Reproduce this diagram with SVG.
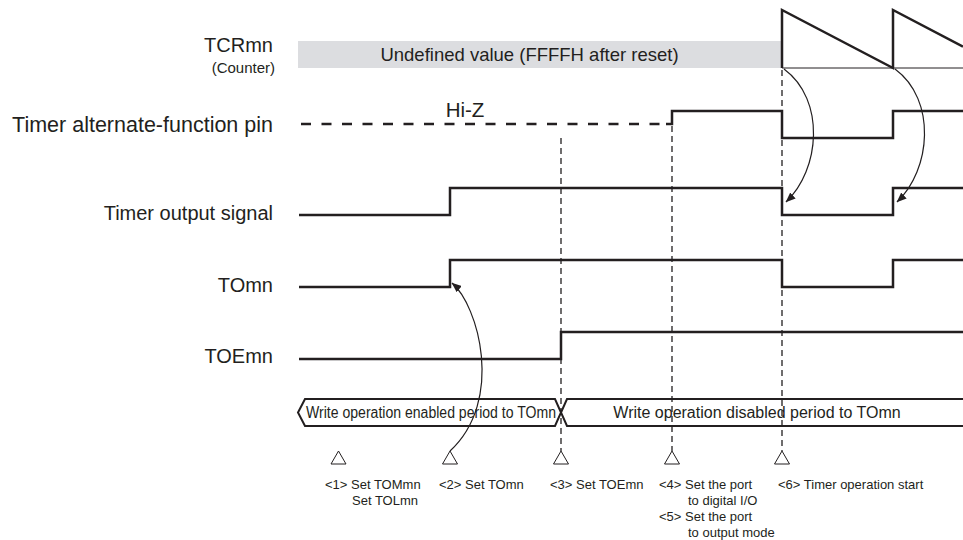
<svg xmlns="http://www.w3.org/2000/svg" width="963" height="540" viewBox="0 0 963 540">
<style>
  .lbl{font-family:"Liberation Sans",Arial,sans-serif;fill:#231f20;}
  .big{font-size:20px;text-anchor:end;}
  .sig{fill:none;stroke:#231f20;stroke-width:2.5;stroke-linejoin:miter;}
  .thin{fill:none;stroke:#231f20;stroke-width:1;}
  .vdash{fill:none;stroke:#231f20;stroke-width:1.3;stroke-dasharray:6 4;}
  .curve{fill:none;stroke:#231f20;stroke-width:1.2;marker-end:url(#ah);}
  .tri{fill:#fff;stroke:#231f20;stroke-width:1;}
  .band{fill:#fff;stroke:#231f20;stroke-width:2;}
  .note{font-size:13px;}
</style>
<defs>
  <marker id="ah" viewBox="0 0 10 8" refX="9.5" refY="4" markerWidth="10" markerHeight="8" markerUnits="userSpaceOnUse" orient="auto">
    <path d="M0,0 L10,4 L0,8 Z" fill="#231f20"/>
  </marker>
</defs>
<rect width="963" height="540" fill="#fff"/>

<g id="labels">
  <text class="lbl big" x="273" y="52" font-size="21">TCRmn</text>
  <text class="lbl" x="275" y="73" font-size="15" text-anchor="end">(Counter)</text>
  <text class="lbl big" x="273" y="132" style="font-size:21.5px">Timer alternate-function pin</text>
  <text class="lbl big" x="273" y="220">Timer output signal</text>
  <text class="lbl big" x="273" y="292">TOmn</text>
  <text class="lbl big" x="273" y="363">TOEmn</text>
</g>

<g id="tcr">
  <rect x="298" y="41" width="484" height="27" fill="#dcdde0"/>
  <text class="lbl" x="529.5" y="61" font-size="18.5" text-anchor="middle">Undefined value (FFFFH after reset)</text>
  <line class="thin" x1="782" y1="68" x2="963" y2="68"/>
  <path class="sig" d="M782,68 L782,10 L893,68 L893,10 L963,46.6"/>
</g>

<g id="pin">
  <line x1="301" y1="124" x2="668" y2="124" stroke="#231f20" stroke-width="2.5" stroke-dasharray="10 10.5"/>
  <text class="lbl" x="465" y="117" font-size="20.5" text-anchor="middle">Hi-Z</text>
  <path class="sig" d="M666,124 L672,124 L672,111 L782,111 L782,138 L893,138 L893,111 L963,111"/>
</g>

<g id="timer-output">
  <path class="sig" d="M299,215 L450,215 L450,188 L782,188 L782,215 L893,215 L893,188 L963,188"/>
</g>

<g id="tomn">
  <path class="sig" d="M299,287 L450,287 L450,260 L782,260 L782,287 L893,287 L893,260 L963,260"/>
</g>

<g id="toemn">
  <path class="sig" d="M299,359 L561,359 L561,332 L963,332"/>
</g>

<g id="periods">
  <path class="band" d="M298,412.5 L305,399 L555,399 L561,412.5 L555,426 L305,426 Z"/>
  <path class="band" d="M561,412.5 L567,399 L966,399 L966,426 L567,426 Z"/>
  <text class="lbl" x="306" y="418" font-size="16" textLength="250" lengthAdjust="spacingAndGlyphs">Write operation enabled period to TOmn</text>
  <text class="lbl" x="757" y="418" font-size="16" text-anchor="middle">Write operation disabled period to TOmn</text>
</g>

<g id="connectors">
  <line class="vdash" x1="561" y1="138" x2="561" y2="451"/>
  <line class="vdash" x1="672" y1="126" x2="672" y2="451"/>
  <line class="vdash" x1="782" y1="70" x2="782" y2="451"/>
  <path class="curve" d="M450,451 C505,400 478,305 452,283"/>
  <path class="curve" d="M784,69 C826,100 820,170 786,202"/>
  <path class="curve" d="M895,69 C937,100 931,170 897,202"/>
</g>

<g id="events">
  <path class="tri" d="M338.5,451 L346,464 L331,464 Z"/>
  <path class="tri" d="M450,451 L457.5,464 L442.5,464 Z"/>
  <path class="tri" d="M561,451 L568.5,464 L553.5,464 Z"/>
  <path class="tri" d="M672,451 L679.5,464 L664.5,464 Z"/>
  <path class="tri" d="M782,451 L789.5,464 L774.5,464 Z"/>
  <text class="lbl note" x="325" y="489">&lt;1&gt; Set TOMmn</text>
  <text class="lbl note" x="352" y="505">Set TOLmn</text>
  <text class="lbl note" x="439" y="489">&lt;2&gt; Set TOmn</text>
  <text class="lbl note" x="550" y="489">&lt;3&gt; Set TOEmn</text>
  <text class="lbl note" x="659" y="489">&lt;4&gt; Set the port</text>
  <text class="lbl note" x="688" y="505">to digital I/O</text>
  <text class="lbl note" x="659" y="521">&lt;5&gt; Set the port</text>
  <text class="lbl note" x="688" y="537">to output mode</text>
  <text class="lbl note" x="778" y="489">&lt;6&gt; Timer operation start</text>
</g>
</svg>
